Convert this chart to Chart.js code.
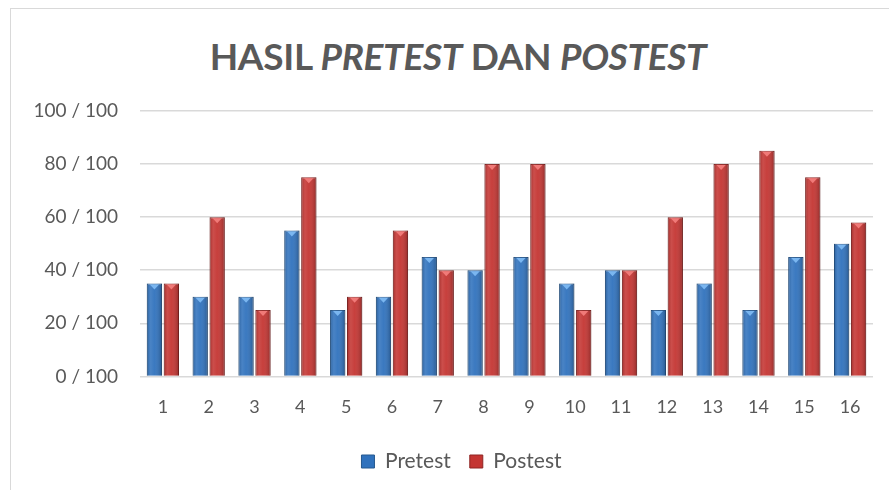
<!DOCTYPE html>
<html>
<head>
<meta charset="utf-8">
<script src="https://cdn.jsdelivr.net/npm/chart.js@4"></script>
<style>
  html, body { margin: 0; padding: 0; background: #fff; }
  body { width: 889px; height: 490px; position: relative; overflow: hidden; font-family: Lato, 'Open Sans', sans-serif; }
  .frame { position: absolute; left: 10px; top: 8px; width: 900px; height: 500px; border: 1px solid #d9d9d9; box-sizing: border-box; }
  h1 { position: absolute; left: 0; width: 916px; top: 33px; margin: 0; text-align: center; font: 700 37px Lato, sans-serif; color: #595959; letter-spacing: -0.3px; }
  #wrap { position: absolute; left: 0; top: 0; width: 889px; height: 490px; }
</style>
</head>
<body>
<div class="frame"></div>
<h1>HASIL <i>PRETEST</i> DAN <i>POSTEST</i></h1>
<div id="wrap"><canvas id="chart"></canvas></div>
<script>
const categories = ['1', '2', '3', '4', '5', '6', '7', '8', '9', '10', '11', '12', '13', '14', '15', '16'];
const pretest = [35, 30, 30, 55, 25, 30, 45, 40, 45, 35, 40, 25, 35, 25, 45, 50];
const postest = [35, 60, 25, 75, 30, 55, 40, 80, 80, 25, 40, 60, 80, 85, 75, 58];
const yTicks = [0, 20, 40, 60, 80, 100];

const BLUE = '#3072bd';
const RED = '#c43532';

// shading over each bar so it looks like the bevelled office bars
const bevel = {
  id: 'bevel',
  afterDatasetsDraw(chart) {
    const ctx = chart.ctx;
    chart.data.datasets.forEach((ds, di) => {
      const light = di === 0 ? '#7ab6f0' : '#f07a78';
      chart.getDatasetMeta(di).data.forEach((bar) => {
        const left = bar.x - bar.width / 2;
        const top = bar.y;
        const h = bar.base - bar.y;
        const g = ctx.createLinearGradient(left, 0, left + bar.width, 0);
        g.addColorStop(0, 'rgba(0,0,0,0.18)');
        g.addColorStop(0.25, 'rgba(255,255,255,0.12)');
        g.addColorStop(0.5, 'rgba(255,255,255,0.05)');
        g.addColorStop(1, 'rgba(0,0,0,0.25)');
        ctx.save();
        ctx.fillStyle = g;
        ctx.fillRect(left, top, bar.width, h);
        ctx.fillStyle = light;
        ctx.beginPath();
        ctx.moveTo(left + 3, top + 1);
        ctx.lineTo(left + bar.width - 3, top + 1);
        ctx.lineTo(bar.x, top + 6);
        ctx.closePath();
        ctx.fill();
        ctx.restore();
      });
    });
  }
};

// the legend sits centred on the whole frame, a bit right of the canvas centre
const legendShift = {
  id: 'legendShift',
  afterLayout(chart) {
    chart.legend.left += 20;
    chart.legend.right += 20;
  }
};

new Chart(document.getElementById('chart'), {
  type: 'bar',
  data: {
    labels: categories,
    datasets: [
      { label: 'Pretest', data: pretest, backgroundColor: BLUE, borderColor: '#25588f', borderWidth: 1 },
      { label: 'Postest', data: postest, backgroundColor: RED, borderColor: '#8f2523', borderWidth: 1 }
    ]
  },
  options: {
    responsive: true,
    maintainAspectRatio: false,
    animation: false,
    layout: { padding: { left: 10, right: 16, top: 111, bottom: 8 } },
    datasets: { bar: { categoryPercentage: 0.74, barPercentage: 0.9 } },
    plugins: {
      legend: {
        position: 'bottom',
        labels: { color: '#595959', font: { family: 'Lato', size: 21 }, boxWidth: 13, boxHeight: 13, padding: 19 }
      },
      tooltip: { enabled: false }
    },
    scales: {
      x: {
        grid: { display: false },
        border: { display: false },
        afterFit: (s) => { s.height += 2; },
        ticks: { color: '#595959', font: { family: 'Lato', size: 18 }, padding: 12 }
      },
      y: {
        min: 0,
        max: 100,
        afterBuildTicks: (s) => { s.ticks = yTicks.map((v) => ({ value: v })); },
        afterFit: (s) => { s.width = 130; },
        grid: { color: '#d9d9d9', lineWidth: 1.5, drawTicks: false },
        border: { display: false },
        ticks: { color: '#595959', font: { family: 'Lato', size: 19 }, padding: 22, callback: (v) => `${v} / 100` }
      }
    }
  },
  plugins: [bevel, legendShift]
});
</script>
</body>
</html>
